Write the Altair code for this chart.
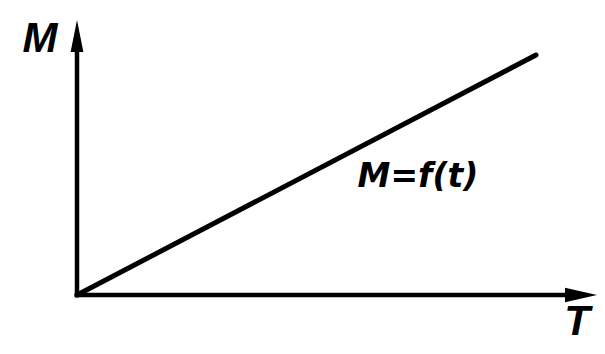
import altair as alt
import pandas as pd

# plot area size (page is 605x354 with 8px margin)
W, H = 589, 338
X_DOMAIN = [-1.38, 10.4]
Y_DOMAIN = [-1.02, 5.74]

# the curve M = f(t)
line_t = [0.0, 9.18]
line_m = [0.0, 4.80]

# axis lines
x_axis_t = [0.0, 10.08]
x_axis_m = [0.0, 0.0]
y_axis_t = [0.0, 0.0]
y_axis_m = [0.0, 5.18]

# arrow heads
arrow_up_t = [0.0]
arrow_up_m = [5.18]
arrow_right_t = [10.08]
arrow_right_m = [0.0]

# labels
axis_label_text = ["M", "T"]
axis_label_t = [-0.74, 10.0]
axis_label_m = [4.86, -0.8]

curve_label_text = ["M=f(t)"]
curve_label_t = [6.82]
curve_label_m = [2.16]

xs = alt.Scale(domain=X_DOMAIN, nice=False, zero=False)
ys = alt.Scale(domain=Y_DOMAIN, nice=False, zero=False)


def enc(chart):
    return chart.encode(
        x=alt.X("t:Q", scale=xs, axis=None),
        y=alt.Y("m:Q", scale=ys, axis=None),
    )


curve = enc(
    alt.Chart(pd.DataFrame({"t": line_t, "m": line_m})).mark_line(
        color="black", strokeWidth=5, strokeCap="round"
    )
)
xaxis = enc(
    alt.Chart(pd.DataFrame({"t": x_axis_t, "m": x_axis_m})).mark_line(
        color="black", strokeWidth=4.5, strokeCap="square"
    )
)
yaxis = enc(
    alt.Chart(pd.DataFrame({"t": y_axis_t, "m": y_axis_m})).mark_line(
        color="black", strokeWidth=4.5, strokeCap="square"
    )
)
arrow_up = enc(
    alt.Chart(pd.DataFrame({"t": arrow_up_t, "m": arrow_up_m})).mark_point(
        shape="M0,-1L0.4,1L-0.4,1Z", size=1024, filled=True, color="black",
        opacity=1, strokeWidth=0
    )
)
arrow_right = enc(
    alt.Chart(pd.DataFrame({"t": arrow_right_t, "m": arrow_right_m})).mark_point(
        shape="M1,0L-1,0.45L-1,-0.45Z", size=1024, filled=True, color="black",
        opacity=1, strokeWidth=0
    )
)
axis_labels = enc(
    alt.Chart(pd.DataFrame({"t": axis_label_t, "m": axis_label_m, "s": axis_label_text})).mark_text(
        font="Liberation Sans", fontSize=42, fontWeight="bold", fontStyle="italic",
        baseline="alphabetic", align="center", color="black"
    )
).encode(text="s:N")
curve_label = enc(
    alt.Chart(pd.DataFrame({"t": curve_label_t, "m": curve_label_m, "s": curve_label_text})).mark_text(
        font="DejaVu Sans", fontSize=33, fontWeight="bold", fontStyle="italic",
        baseline="alphabetic", align="center", color="black"
    )
).encode(text="s:N")

chart = (
    alt.layer(xaxis, yaxis, curve, arrow_up, arrow_right, axis_labels, curve_label)
    .properties(width=W, height=H, padding=0, autosize=alt.AutoSizeParams(type="none"),
                background="white")
    .configure_view(stroke=None)
)

chart.save("out.html", embed_options={"renderer": "svg", "actions": False})
